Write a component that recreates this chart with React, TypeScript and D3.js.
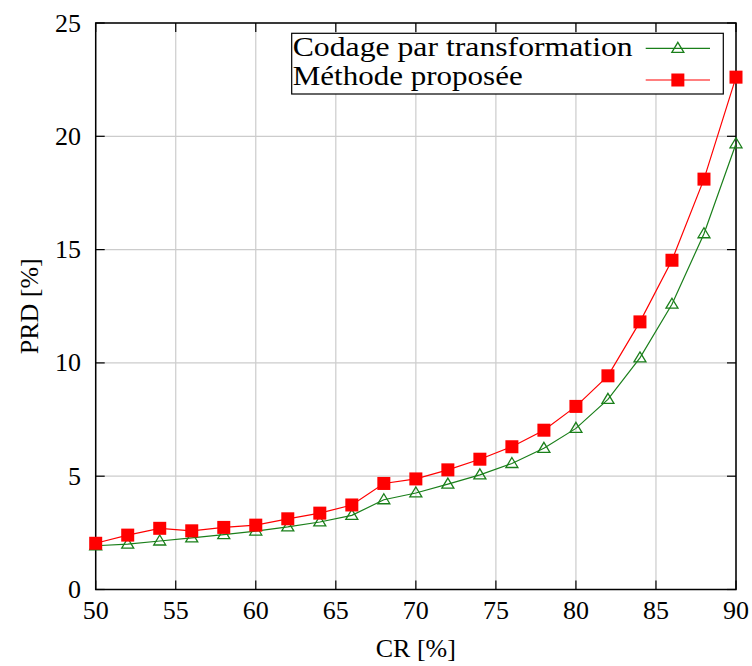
import React from "react";
import * as d3 from "d3";

const crValues = [50, 52, 54, 56, 58, 60, 62, 64, 66, 68, 70, 72, 74, 76, 78, 80, 82, 84, 86, 88, 90];
const codageValues = [1.93, 2.0, 2.14, 2.28, 2.42, 2.58, 2.76, 2.98, 3.27, 3.96, 4.26, 4.65, 5.06, 5.56, 6.23, 7.11, 8.39, 10.22, 12.59, 15.7, 19.67];
const proposeeValues = [2.04, 2.4, 2.7, 2.59, 2.74, 2.84, 3.12, 3.37, 3.73, 4.68, 4.88, 5.28, 5.75, 6.3, 7.03, 8.08, 9.43, 11.81, 14.53, 18.11, 22.61];
const xTicks = [50, 55, 60, 65, 70, 75, 80, 85, 90];
const yTicks = [0, 5, 10, 15, 20, 25];
const seriesNames = ["Codage par transformation", "Méthode proposée"];
const xTitle = "CR [%]";
const yTitle = "PRD [%]";

const W = 752;
const H = 666;
const M = { left: 95.7, right: 736, top: 23, bottom: 589.5 };
const GREEN = "#1a7f1a";
const RED = "#ff0000";
const TXT: React.CSSProperties = { fontFamily: '"Liberation Serif", serif' };

export default function App() {
  const x = d3.scaleLinear().domain([50, 90]).range([M.left, M.right]);
  const y = d3.scaleLinear().domain([0, 25]).range([M.bottom, M.top]);
  const line = d3
    .line<number>()
    .x((_, i) => x(crValues[i]))
    .y((d) => y(d));

  const tri = (cx: number, cy: number, k: string | number) => {
    const s = 6;
    const h = 10;
    return (
      <path
        key={k}
        d={`M${cx},${cy - h * 0.6} L${cx + s},${cy + h * 0.4} L${cx - s},${cy + h * 0.4} Z`}
        fill="none"
        stroke={GREEN}
        strokeWidth={1.3}
      />
    );
  };
  const sq = (cx: number, cy: number, k: string | number) => (
    <rect key={k} x={cx - 6.5} y={cy - 6.5} width={13} height={13} fill={RED} />
  );

  const tickLen = 9;
  const legX = 291.7;
  const legY = 33.3;
  const legW = 431.6;
  const legH = 60.7;
  const row1 = 48.3;
  const row2 = 80;
  const sampleX1 = 645.7;
  const sampleX2 = 710;

  return (
    <svg width={W} height={H} style={{ position: "absolute", left: 0, top: 0, background: "#fff" }}>
      <rect x={0} y={0} width={W} height={H} fill="#fff" />
      {xTicks.map((t) => (
        <line key={"gx" + t} x1={x(t)} x2={x(t)} y1={M.top} y2={M.bottom} stroke="#cccccc" strokeWidth={1.2} />
      ))}
      {yTicks.map((t) => (
        <line key={"gy" + t} x1={M.left} x2={M.right} y1={y(t)} y2={y(t)} stroke="#cccccc" strokeWidth={1.2} />
      ))}
      {xTicks.map((t) => (
        <g key={"tx" + t}>
          <line x1={x(t)} x2={x(t)} y1={M.bottom} y2={M.bottom - tickLen} stroke="#000" strokeWidth={1.2} />
          <line x1={x(t)} x2={x(t)} y1={M.top} y2={M.top + tickLen} stroke="#000" strokeWidth={1.2} />
          <text x={x(t)} y={619} textAnchor="middle" fontSize={26} fill="#000" style={TXT}>
            {t}
          </text>
        </g>
      ))}
      {yTicks.map((t) => (
        <g key={"ty" + t}>
          <line x1={M.left} x2={M.left + tickLen} y1={y(t)} y2={y(t)} stroke="#000" strokeWidth={1.2} />
          <line x1={M.right} x2={M.right - tickLen} y1={y(t)} y2={y(t)} stroke="#000" strokeWidth={1.2} />
          <text x={81} y={y(t) + 8.5} textAnchor="end" fontSize={26} fill="#000" style={TXT}>
            {t}
          </text>
        </g>
      ))}
      <rect x={M.left} y={M.top} width={M.right - M.left} height={M.bottom - M.top} fill="none" stroke="#000" strokeWidth={1.5} />
      <text x={(M.left + M.right) / 2} y={657} textAnchor="middle" fontSize={26} fill="#000" style={TXT}>
        {xTitle}
      </text>
      <text
        transform={`translate(38,${(M.top + M.bottom) / 2}) rotate(-90)`}
        textAnchor="middle"
        fontSize={26}
        fill="#000"
        style={TXT}
      >
        {yTitle}
      </text>
      <path d={line(codageValues) || ""} fill="none" stroke={GREEN} strokeWidth={1.2} />
      <path d={line(proposeeValues) || ""} fill="none" stroke={RED} strokeWidth={1.2} />
      {codageValues.map((v, i) => tri(x(crValues[i]), y(v), "t" + i))}
      {proposeeValues.map((v, i) => sq(x(crValues[i]), y(v), "s" + i))}
      <rect x={legX} y={legY} width={legW} height={legH} fill="#fff" stroke="#000" strokeWidth={1.2} />
      <text x={legX + 1} y={row1 + 8} fontSize={27} fill="#000" style={TXT} textLength={340} lengthAdjust="spacingAndGlyphs">
        {seriesNames[0]}
      </text>
      <text x={legX + 1} y={row2 + 5} fontSize={27} fill="#000" style={TXT} textLength={230} lengthAdjust="spacingAndGlyphs">
        {seriesNames[1]}
      </text>
      <line x1={sampleX1} x2={sampleX2} y1={row1} y2={row1} stroke={GREEN} strokeWidth={1.2} />
      {tri((sampleX1 + sampleX2) / 2, row1, "lt")}
      <line x1={sampleX1} x2={sampleX2} y1={row2} y2={row2} stroke={RED} strokeWidth={1.2} />
      {sq((sampleX1 + sampleX2) / 2, row2, "ls")}
    </svg>
  );
}
